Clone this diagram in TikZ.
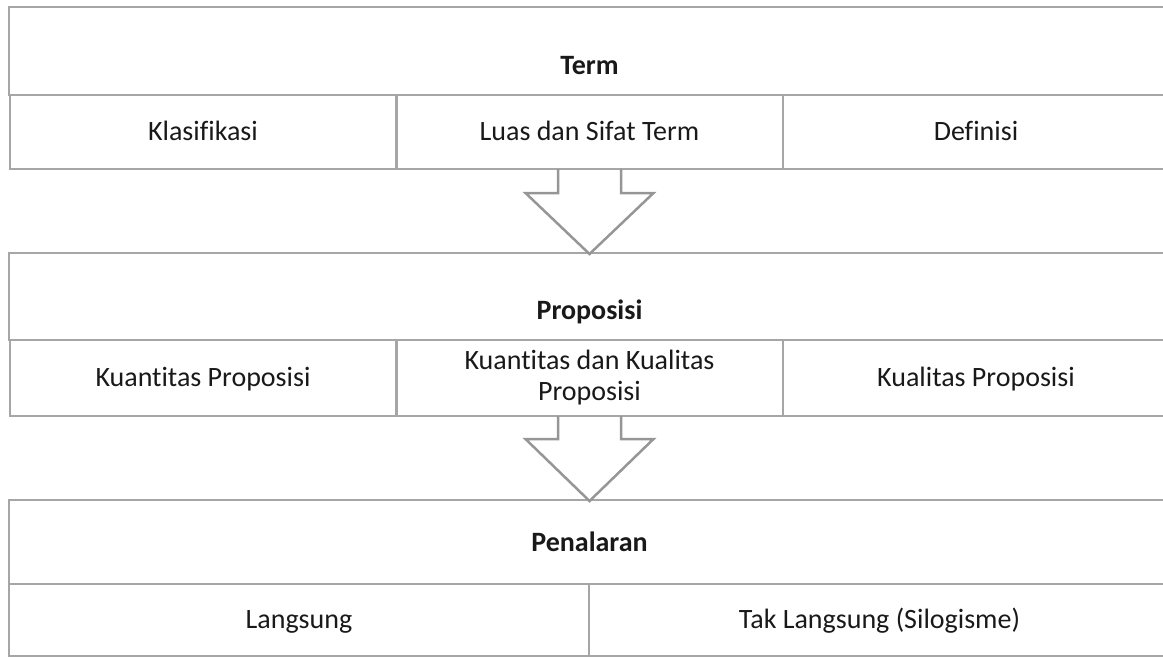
\documentclass[tikz,border=0pt]{standalone}
\usepackage{fontspec}
\setmainfont{Carlito}[Ligatures=NoCommon]
\usetikzlibrary{calc}
\definecolor{garis}{RGB}{166,166,166}
\definecolor{panah}{RGB}{150,150,150}

\begin{document}
\begin{tikzpicture}[x=1pt,y=-1pt,
    cell/.style={draw=garis,line width=2pt,rectangle,inner sep=0pt,outer sep=0pt,
      font=\fontsize{28}{31}\selectfont,text=black!90},
    head node/.style={cell,font=\fontsize{28}{31}\selectfont\bfseries,minimum width=1161pt},
    col3/.style={cell,minimum width=387pt,text height=20pt,text depth=4pt},
    col2/.style={cell,minimum width=580.5pt,text height=20pt,text depth=4pt},
    block arrow/.style={draw=panah,line width=2.5pt,line join=miter}]

\useasboundingbox (0,0) rectangle (1163,657);

% Term
\node[head node,minimum height=88pt,text height=46pt,text depth=0pt] (termhead) at (589.5,51) {Term};
\node[col3,minimum height=74pt] (klas) at (203,132)   {Klasifikasi};
\node[col3,minimum height=74pt] (luas) at (589.5,132) {Luas dan Sifat Term};
\node[col3,minimum height=74pt] (defi) at (976,132)   {Definisi};

% Proposisi
\node[head node,minimum height=87pt,text height=46pt,text depth=0pt] (prophead) at (589.5,296.5) {Proposisi};
\node[col3,minimum height=76pt] (kuan) at (203,378) {Kuantitas Proposisi};
\node[cell,minimum width=387pt,minimum height=76pt,align=center] (kuakua) at (589.5,378) {Kuantitas dan Kualitas\\Proposisi};
\node[col3,minimum height=76pt] (kual) at (976,378) {Kualitas Proposisi};

% Penalaran
\node[head node,minimum height=84pt,text height=18pt,text depth=0pt] (penhead) at (589.5,542) {Penalaran};
\node[col2,minimum height=72pt] (lang)    at (299,620)   {Langsung};
\node[col2,minimum height=72pt] (taklang) at (879.5,620) {Tak Langsung (Silogisme)};

% panah
\draw[block arrow] ($(luas.south)+(-31.5,0)$) -- ++(0,24) -- ++(-32.5,0)
    -- ($(prophead.north)+(0,1)$) -- ($(luas.south)+(64,24)$) -- ++(-32.5,0) -- ++(0,-24);
\draw[block arrow] ($(kuakua.south)+(-31.5,0)$) -- ++(0,23) -- ++(-32.5,0)
    -- ($(penhead.north)+(0,1)$) -- ($(kuakua.south)+(64,23)$) -- ++(-32.5,0) -- ++(0,-23);
\end{tikzpicture}
\end{document}
